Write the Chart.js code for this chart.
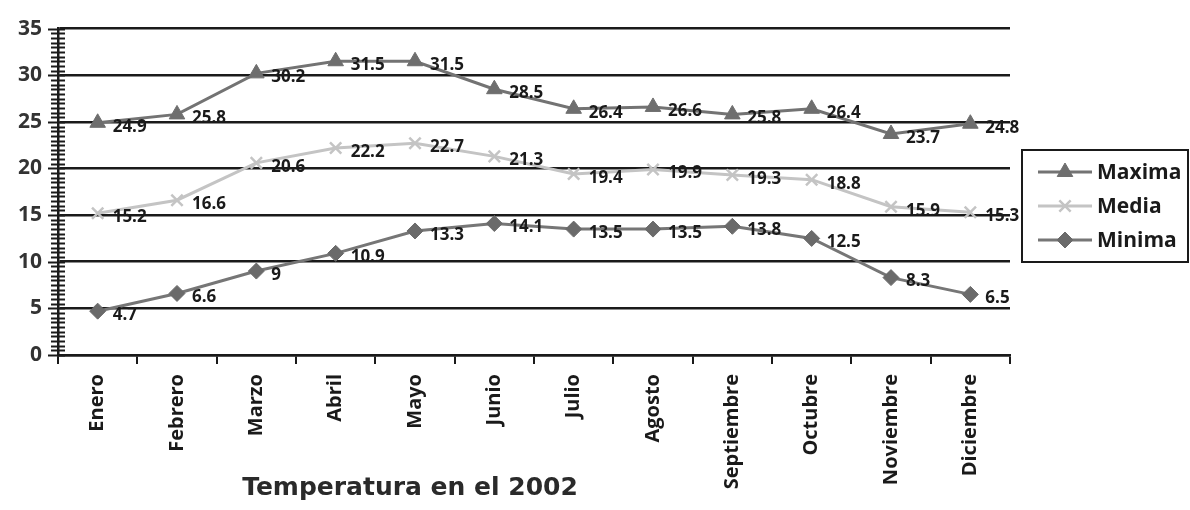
<!DOCTYPE html>
<html>
<head>
<meta charset="utf-8">
<script src="https://cdn.jsdelivr.net/npm/chart.js"></script>
<style>
  html, body { margin: 0; padding: 0; background: #ffffff; }
  #wrap { width: 1190px; height: 510px; }
</style>
</head>
<body>
<div id="wrap"><canvas id="tempChart" width="1190" height="510"></canvas></div>
<script>
// Data
const months = ['Enero', 'Febrero', 'Marzo', 'Abril', 'Mayo', 'Junio', 'Julio',
                'Agosto', 'Septiembre', 'Octubre', 'Noviembre', 'Diciembre'];
const maxima = [24.9, 25.8, 30.2, 31.5, 31.5, 28.5, 26.4, 26.6, 25.8, 26.4, 23.7, 24.8];
const media  = [15.2, 16.6, 20.6, 22.2, 22.7, 21.3, 19.4, 19.9, 19.3, 18.8, 15.9, 15.3];
const minima = [4.7, 6.6, 9, 10.9, 13.3, 14.1, 13.5, 13.5, 13.8, 12.5, 8.3, 6.5];
const seriesNames = ['Maxima', 'Media', 'Minima'];
const chartTitle = 'Temperatura en el 2002';

const ink = '#1a1a1a';

// minor ticks crossing the y axis, every 0.5
const minorTicks = {
    id: 'minorTicks',
    afterDatasetsDraw(chart) {
        const y = chart.scales.y;
        const ctx = chart.ctx;
        const x0 = y.right;
        ctx.save();
        ctx.strokeStyle = ink;
        ctx.lineWidth = 2;
        for (let v = 0; v <= 35.001; v += 0.5) {
            const py = Math.round(y.getPixelForValue(v)) + 0.5;
            const major = Math.abs(v % 5) < 0.001;
            ctx.beginPath();
            ctx.moveTo(x0 - (major ? 10 : 7), py);
            ctx.lineTo(x0 + 7, py);
            ctx.stroke();
        }
        ctx.restore();
    }
};

// value labels beside every point
const valueLabels = {
    id: 'valueLabels',
    afterDatasetsDraw(chart) {
        const ctx = chart.ctx;
        ctx.save();
        ctx.font = 'bold 17px "Open Sans", sans-serif';
        ctx.fillStyle = ink;
        ctx.textBaseline = 'middle';
        ctx.textAlign = 'left';
        chart.data.datasets.forEach((ds, i) => {
            chart.getDatasetMeta(i).data.forEach((pt, j) => {
                ctx.fillText(String(ds.data[j]), pt.x + 15, pt.y + 4);
            });
        });
        ctx.restore();
    }
};

// boxed legend with line + marker, and the title under the axis
const sideLegend = {
    id: 'sideLegend',
    afterDraw(chart) {
        const ctx = chart.ctx;
        const bx = 1022, by = 150, bw = 166, bh = 112;
        ctx.save();
        ctx.strokeStyle = ink;
        ctx.lineWidth = 2;
        ctx.strokeRect(bx, by, bw, bh);
        chart.data.datasets.forEach((ds, i) => {
            const cy = by + 22 + i * 34;
            ctx.strokeStyle = ds.borderColor;
            ctx.lineWidth = 3;
            ctx.beginPath();
            ctx.moveTo(bx + 16, cy);
            ctx.lineTo(bx + 70, cy);
            ctx.stroke();
            ctx.fillStyle = ds.pointBackgroundColor;
            ctx.strokeStyle = ds.pointBorderColor;
            ctx.lineWidth = ds.pointBorderWidth || 1;
            Chart.helpers.drawPoint(ctx, {
                pointStyle: ds.pointStyle,
                radius: ds.pointRadius,
                borderWidth: ds.pointBorderWidth || 1
            }, bx + 43, cy);
            ctx.fillStyle = ink;
            ctx.font = 'bold 21px "Open Sans", sans-serif';
            ctx.textBaseline = 'middle';
            ctx.fillText(ds.label, bx + 75, cy + 1);
        });
        ctx.font = '900 25px "DejaVu Sans", sans-serif';
        ctx.fillStyle = '#2a2a2a';
        ctx.textAlign = 'center';
        ctx.textBaseline = 'middle';
        ctx.fillText(chartTitle, 410, 488);
        ctx.restore();
    }
};

new Chart(document.getElementById('tempChart'), {
    type: 'line',
    data: {
        labels: months,
        datasets: [{
            label: seriesNames[0],
            data: maxima,
            borderColor: '#737373',
            borderWidth: 3,
            pointStyle: 'triangle',
            pointRadius: 9,
            pointBackgroundColor: '#6e6e6e',
            pointBorderColor: '#6e6e6e',
            pointBorderWidth: 1
        }, {
            label: seriesNames[1],
            data: media,
            borderColor: '#c4c4c4',
            borderWidth: 3,
            pointStyle: 'crossRot',
            pointRadius: 8,
            pointBackgroundColor: '#c4c4c4',
            pointBorderColor: '#c4c4c4',
            pointBorderWidth: 2.5
        }, {
            label: seriesNames[2],
            data: minima,
            borderColor: '#767676',
            borderWidth: 3,
            pointStyle: 'rectRot',
            pointRadius: 8,
            pointBackgroundColor: '#6a6a6a',
            pointBorderColor: '#6a6a6a',
            pointBorderWidth: 1
        }]
    },
    options: {
        responsive: false,
        animation: false,
        layout: { padding: { top: 22, right: 180, bottom: 0, left: 0 } },
        plugins: {
            legend: { display: false },
            title: { display: false },
            tooltip: { enabled: false }
        },
        scales: {
            x: {
                offset: true,
                border: { color: ink, width: 2.5 },
                grid: { drawOnChartArea: false, tickLength: 9, tickColor: ink, lineWidth: 2, offset: true },
                ticks: {
                    color: ink,
                    minRotation: 90,
                    maxRotation: 90,
                    padding: 10,
                    font: { family: '"Open Sans", sans-serif', size: 20, weight: 'bold' }
                },
                afterFit(scale) { scale.height = 155; }
            },
            y: {
                min: 0,
                max: 35,
                border: { color: ink, width: 2.5 },
                grid: { color: ink, lineWidth: 2.5, drawTicks: false },
                ticks: {
                    stepSize: 5,
                    color: '#333333',
                    padding: 16,
                    font: { family: '"Open Sans", sans-serif', size: 21, weight: 'bold' }
                },
                afterFit(scale) { scale.width = 58; }
            }
        }
    },
    plugins: [minorTicks, valueLabels, sideLegend]
});
</script>
</body>
</html>
